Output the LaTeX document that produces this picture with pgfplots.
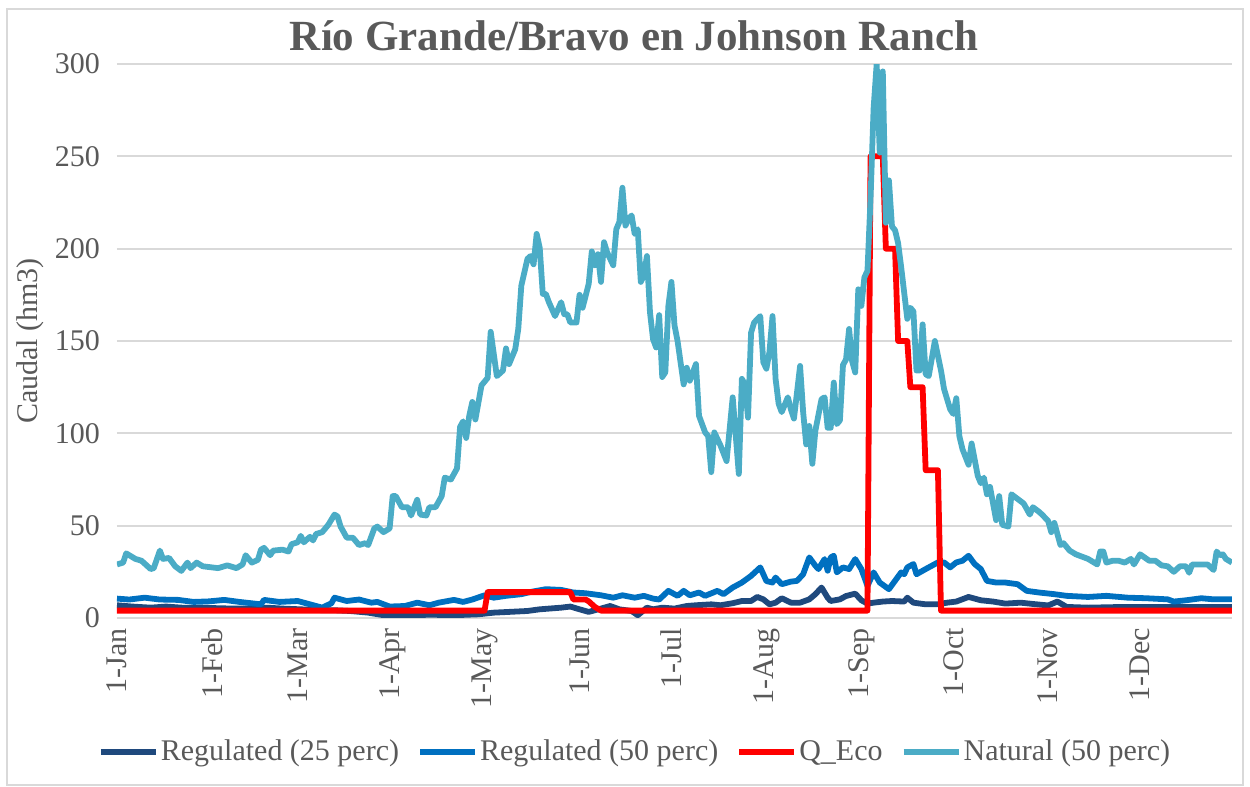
\documentclass[border=0pt]{standalone}
\usepackage{fontspec}
\setmainfont{Liberation Serif}
\usepackage{pgfplots}
\pgfplotsset{compat=1.18}
\definecolor{txtgray}{HTML}{595959}
\definecolor{gridgray}{HTML}{D9D9D9}
\definecolor{natc}{HTML}{4BACC6}
\definecolor{reg50}{HTML}{0070C0}
\definecolor{reg25}{HTML}{1F497D}
\definecolor{ecored}{HTML}{FF0000}
\begin{document}
\begin{tikzpicture}
\path[use as bounding box] (-58.5pt,-84.5pt) rectangle (566.5pt,309pt);
\draw[gridgray, line width=0.75pt] (-55pt,-83.5pt) rectangle (563pt,304.5pt);
\begin{axis}[
  at={(0,0)}, anchor=south west,
  scale only axis, width=557.5pt, height=277pt,
  xmin=0, xmax=364, ymin=0, ymax=300,
  xtick={0,31,59,90,120,151,181,212,243,273,304,334},
  xticklabels={1-Jan,1-Feb,1-Mar,1-Apr,1-May,1-Jun,1-Jul,1-Aug,1-Sep,1-Oct,1-Nov,1-Dec},
  ytick={0,50,100,150,200,250,300},
  major tick length=0pt,
  axis x line*=bottom, axis y line*=left,
  x axis line style={draw=gridgray, line width=1pt, -},
  y axis line style={draw=none},
  ymajorgrids, grid style={draw=gridgray, line width=1pt},
  tick label style={font=\fontsize{15}{18}\selectfont, text=txtgray},
  /pgf/number format/assume math mode=true,
  xticklabel style={rotate=90, anchor=east, xshift=-1.5pt},
  yticklabel style={anchor=east, xshift=-5pt},
  ylabel={Caudal (hm3)},
  ylabel style={at={(axis description cs:-0.078,0.5)}, anchor=center, font=\fontsize{15}{18}\selectfont, text=txtgray},
  title={Río Grande/Bravo en Johnson Ranch},
  title style={at={(axis description cs:0.4637,1.0036)}, anchor=base, font=\bfseries\fontsize{21.5}{24}\selectfont, text=txtgray},
  legend style={at={(axis description cs:0.4646,-0.2419)}, anchor=center, draw=none, fill=none,
    font=\fontsize{15}{18}\selectfont, text=txtgray, inner sep=0pt,
    nodes={inner xsep=1pt, inner ysep=2pt},
    /tikz/every even column/.append style={column sep=8pt}},
  legend columns=4,
  legend image code/.code={\draw[#1, line width=3pt] (0pt,0pt) -- (27.5pt,0pt);},
  clip=true,
  every axis plot/.append style={line width=2.9pt, line join=round, no markers},
]
\addplot[reg25] coordinates {(0,6.9)(5,6.2)(11,5.6)(16,6.2)(22,5.5)(27,5.6)(33,5.3)(38,5.1)(43,5.1)(49,5.6)(54,5.1)(60,4.7)(65,4.3)(71,4.2)(76,3.8)(82,2.9)(87,1.5)(92,1.1)(98,1.5)(102,1.8)(110,1.5)(118,2)(123,2.9)(128,3.3)(134,3.8)(138,4.7)(145,5.6)(148,6.2)(151,4.7)(154,3.3)(158,5.1)(161,6.5)(164,4.7)(168,3.8)(170,1.5)(173,5.6)(175,4.7)(178,5.6)(182,5.1)(186,6.5)(189,6.9)(194,7.4)(197,6.9)(201,8)(204,9.2)(207,9.2)(209,11.4)(211,10.1)(213,7.4)(215,8.3)(217,10.7)(220,8.3)(223,8.3)(226,10.1)(228,12.9)(230,16.5)(232,11)(233,9.2)(236,10.1)(238,11.9)(241,13.2)(243,9.6)(245,7.8)(247,8.3)(250,8.9)(253,9.2)(257,8.9)(258,11)(260,8.3)(264,7.4)(268,7.4)(271,8.3)(274,8.9)(278,11.4)(282,9.6)(286,8.9)(290,7.8)(295,8.3)(299,7.6)(304,6.8)(307,8.9)(310,6)(317,5.6)(326,5.9)(337,5.9)(348,5.9)(364,5.9)};
\addlegendentry{Regulated (25 perc)}
\addplot[reg50] coordinates {(0,10.5)(4,10)(9,11)(14,10)(20,9.8)(25,8.7)(30,9)(35,9.8)(40,8.7)(47,7.4)(48,9.8)(53,8.7)(59,9.2)(63,7.4)(67,5.6)(70,8)(71,11)(75,9.2)(79,10)(83,8.3)(85,8.7)(89,6.2)(94,6.5)(98,8.3)(102,6.9)(105,8.3)(110,9.8)(113,8.7)(116,10)(120,12.3)(123,11)(127,12)(132,12.9)(135,14.1)(140,15.6)(145,15.2)(149,13.8)(153,13.4)(158,12.3)(162,11)(165,12.3)(169,11)(172,12)(175,10.5)(177,10)(180,14.7)(183,12)(185,14.7)(187,12.3)(190,13.8)(192,12)(196,14.7)(198,12.9)(201,16.5)(204,19.2)(207,22.8)(210,27.4)(212,20)(214,19.2)(215,21.9)(217,18.3)(220,19.7)(222,20.1)(224,23.7)(226,32.8)(228,28.3)(229,26.5)(231,31.9)(232,25.6)(233,32.8)(234,33.7)(235,24.7)(237,27.4)(239,26.5)(241,31.9)(243,26.5)(245,17.4)(247,24.7)(249,19.2)(252,15.6)(256,24.7)(257,23.7)(258,27.4)(260,29.2)(261,23.7)(264,26.5)(268,30.1)(270,30.1)(272,27.4)(274,30.1)(276,31)(278,33.7)(280,29.2)(282,26.5)(284,20.1)(287,19.2)(290,19.2)(294,18.3)(297,14.7)(301,13.8)(306,12.9)(310,12)(317,11.4)(323,12)(330,11)(336,10.7)(343,10.1)(345,8.9)(349,9.6)(354,10.7)(358,10.1)(364,10.1)};
\addlegendentry{Regulated (50 perc)}
\addplot[ecored] coordinates {(0,4)(120,4)(121,14)(148,14)(149,10)(153,10)(154,9)(156,6)(158,4)(245,4)(246,250)(250,250)(251,200)(254,200)(255,150)(258,150)(259,125)(263,125)(264,80)(268,80)(269,4)(364,4)};
\addlegendentry{Q\_Eco}
\addplot[natc] coordinates {(0,29)(2,30)(3,35)(6,32)(8,31)(11,26.5)(12,27)(14,36.5)(15,32)(17,32.5)(19,28)(21,25.5)(23,30)(24,27)(26,30)(28,28)(33,27)(36,28.5)(39,27)(41,29)(42,34)(44,30)(46,31.5)(47,37)(48,38)(50,34)(51,36.5)(54,37)(56,36)(57,40)(59,41)(60,44.5)(61,41)(63,44)(64,42)(65,45.5)(67,46.5)(69,50.5)(71,56)(72,55)(73,49.5)(75,43.5)(77,43.5)(79,39.5)(81,40.5)(82,39.5)(84,48.5)(85,49.5)(87,46.5)(89,48.5)(90,66)(91,66)(93,60)(95,60)(96,55.5)(98,64)(99,56)(101,55.5)(102,60)(104,60)(106,66)(107,76)(109,75)(111,81)(112,103.5)(113,106.5)(114,97.5)(115,109.5)(116,117)(117,107.5)(119,126)(121,130)(122,155)(124,131)(126,134)(127,146)(128,137.5)(130,145.5)(131,156.5)(132,180)(134,194.5)(135,196)(136,191.5)(137,208)(138,200.5)(139,175.5)(140,175.5)(141,171)(143,163.5)(145,171)(146,164.5)(147,164.5)(148,160)(150,160)(151,175)(152,168)(154,181)(155,198.5)(156,191)(157,197)(158,182)(159,203.5)(160,198)(162,191)(163,210.5)(164,214.5)(165,233)(166,212.5)(167,216)(168,218)(169,208)(170,210.5)(171,182)(172,185.5)(173,196)(174,165.5)(175,151)(176,146.5)(177,164)(178,130.5)(179,133)(180,169)(181,182)(182,158.5)(183,150)(185,126.5)(186,135.5)(187,128.5)(189,137.5)(190,109.5)(192,100.5)(193,98.5)(194,79)(195,100.5)(197,93.5)(199,85)(201,119.5)(203,78)(204,129.5)(205,126.5)(206,108.5)(207,154.5)(208,160)(210,163.5)(211,138.5)(212,135)(213,144)(214,163.5)(215,129.5)(216,116)(217,111.5)(219,119.5)(220,113)(221,108)(223,136.5)(224,111.5)(225,94)(226,104)(227,83.5)(228,101.5)(230,118.5)(231,119.5)(232,103)(233,103)(234,127.5)(235,105)(236,107)(237,137)(238,140)(239,156.5)(240,139)(241,133)(242,178)(243,169)(244,184.5)(245,188)(246,227)(247,276)(248,300)(249,252)(250,296)(251,214)(252,237)(253,212)(254,210)(255,203)(256,190)(257,176)(258,162)(259,168)(260,166)(261,134)(262,134)(263,159)(264,132)(265,131)(267,150)(269,134)(270,124)(272,113)(273,110.5)(274,119)(275,98.5)(276,91.5)(278,83)(279,94.5)(281,77)(282,73)(283,76)(284,67)(285,71)(287,53)(288,66)(289,50.5)(291,49.5)(292,67)(294,64.5)(296,62)(298,56)(299,60)(301,57.5)(302,56)(304,52.5)(305,46.5)(306,51.5)(308,39.5)(309,40.5)(311,36.5)(313,34.5)(317,32)(320,29)(321,36)(322,36)(323,30)(325,31)(327,31)(329,30)(331,32)(332,29)(334,34.5)(337,31)(339,31)(341,28.5)(343,28)(345,25)(347,28)(349,28)(350,24.5)(351,29)(354,29)(356,29)(358,26)(359,36)(360,34)(361,34.5)(362,32)(364,30)};
\addlegendentry{Natural (50 perc)}
\end{axis}
\end{tikzpicture}
\end{document}
